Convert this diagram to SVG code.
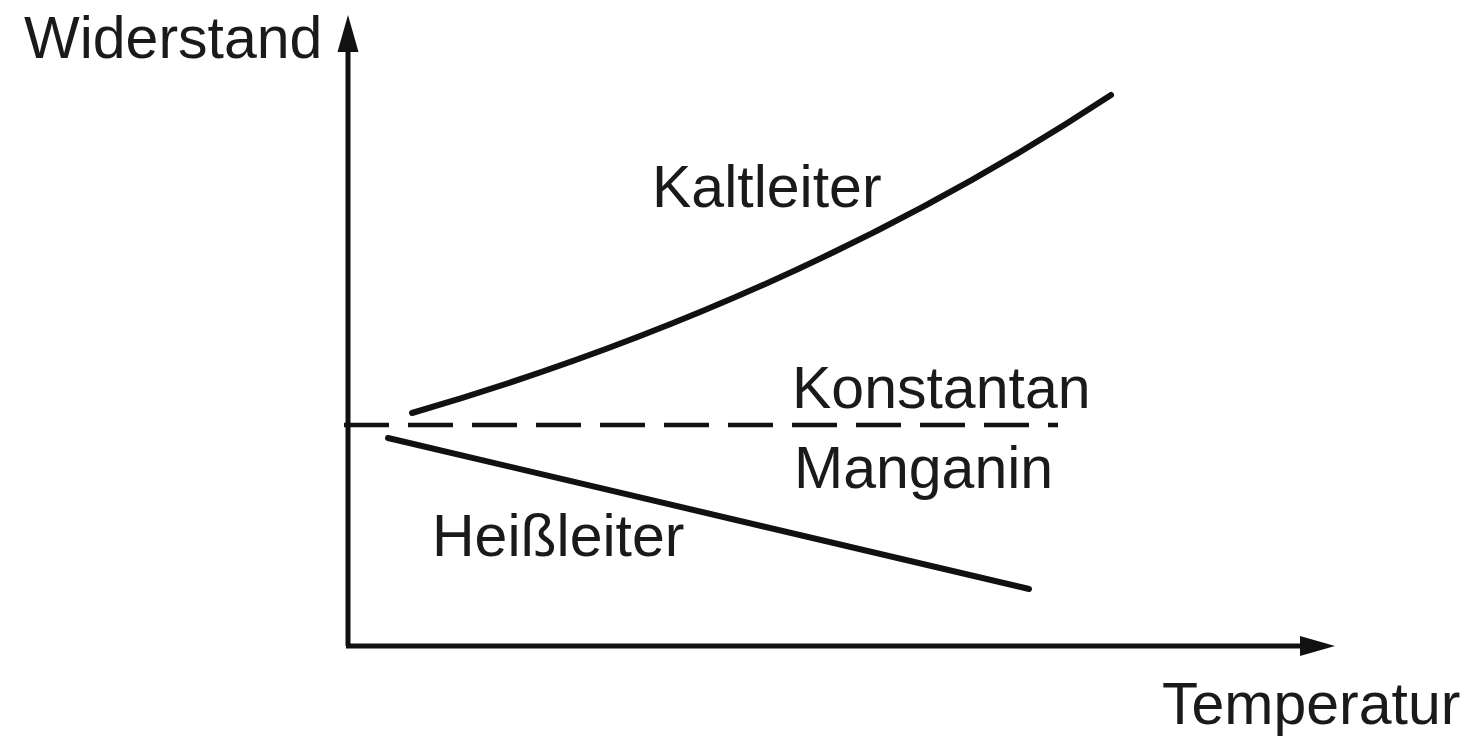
<svg xmlns="http://www.w3.org/2000/svg" width="1473" height="737" viewBox="0 0 1473 737">
<style>
.lbl{font-family:"Liberation Sans",Arial,sans-serif;font-size:59px;fill:#1a1a1a}
.axis{stroke:#111;stroke-width:5;fill:none}
.curve{stroke:#111;stroke-width:6;fill:none;stroke-linecap:round}
.dash{stroke:#111;stroke-width:4.5;fill:none;stroke-dasharray:45 19}
.head{fill:#111}
</style>
<rect width="1473" height="737" fill="#fff"/>
<g id="axes">
<line class="axis" x1="348" y1="646" x2="348" y2="45"/>
<polygon class="head" points="348,15 358.5,52 337.5,52"/>
<line class="axis" x1="346" y1="646" x2="1305" y2="646"/>
<polygon class="head" points="1335,646 1300,636 1300,656"/>
</g>
<g id="connectors">
<path id="kaltleiter-curve" class="curve" d="M412,413 Q800,300 1111,95"/>
<line id="konstantan-line" class="dash" x1="344" y1="425" x2="1058" y2="425"/>
<line id="heissleiter-line" class="curve" x1="388" y1="438" x2="1029" y2="589"/>
</g>
<g id="label-widerstand"><text class="lbl" x="24" y="58">Widerstand</text></g>
<g id="label-temperatur"><text class="lbl" x="1162" y="724">Temperatur</text></g>
<g id="label-kaltleiter"><text class="lbl" x="652" y="207">Kaltleiter</text></g>
<g id="label-konstantan"><text class="lbl" x="792" y="408">Konstantan</text></g>
<g id="label-manganin"><text class="lbl" x="794" y="488">Manganin</text></g>
<g id="label-heissleiter"><text class="lbl" x="432" y="556">Heißleiter</text></g>
</svg>
